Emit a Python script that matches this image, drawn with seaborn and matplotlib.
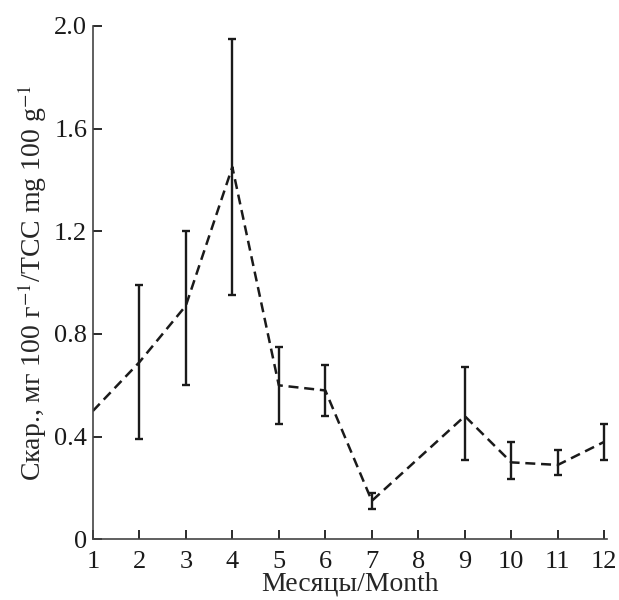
import matplotlib

matplotlib.use("Agg")
import matplotlib.pyplot as plt
import numpy as np
import pandas as pd
import seaborn as sns

# значения
months = [1, 2, 3, 4, 5, 6, 7, 9, 10, 11, 12]
car_mean = [0.50, 0.69, 0.91, 1.45, 0.60, 0.58, 0.15, 0.48, 0.30, 0.29, 0.38]
err_low = [np.nan, 0.39, 0.60, 0.95, 0.45, 0.48, 0.12, 0.31, 0.235, 0.25, 0.31]
err_high = [np.nan, 0.99, 1.20, 1.95, 0.75, 0.68, 0.18, 0.67, 0.38, 0.35, 0.45]
x_ticks = list(range(1, 13))
y_ticks = [0, 0.4, 0.8, 1.2, 1.6, 2.0]
y_tick_labels = ["0", "0.4", "0.8", "1.2", "1.6", "2.0"]

sns.set_style("ticks")
plt.rcParams["font.family"] = ["Liberation Serif", "DejaVu Serif"]
plt.rcParams["mathtext.fontset"] = "stix"

df = pd.DataFrame({"month": months, "car": car_mean, "lo": err_low, "hi": err_high})

fig = plt.figure(figsize=(6.19, 6.0), dpi=100)
ax = fig.add_axes([0.150, 0.101, 0.830, 0.856])

sns.lineplot(
    data=df, x="month", y="car", ax=ax,
    color="#1a1a1a", linewidth=1.8, linestyle=(0, (4, 2.3)),
)

has_err = df.dropna()
ax.errorbar(
    has_err["month"], has_err["car"],
    yerr=[has_err["car"] - has_err["lo"], has_err["hi"] - has_err["car"]],
    fmt="none", ecolor="#1a1a1a", elinewidth=1.7, capsize=3, capthick=1.7,
)

ax.set_xlim(1, 12.05)
ax.set_ylim(0, 2.0)
ax.set_xticks(x_ticks)
ax.set_yticks(y_ticks)
ax.set_yticklabels(y_tick_labels)
ax.tick_params(direction="in", length=6.5, width=1.3, labelsize=19, colors="#1a1a1a", pad=4)
ax.tick_params(axis="x", pad=8)
sns.despine(ax=ax)
for side in ["left", "bottom"]:
    ax.spines[side].set_color("#444444")
    ax.spines[side].set_linewidth(1.2)

ax.set_xlabel("Месяцы/Month", fontsize=20, labelpad=-1)
ax.set_ylabel(r"Скар., мг 100 г$^{-1}$/TCC mg 100 g$^{-1}$", fontsize=20, labelpad=4)

fig.savefig("out.png", dpi=100)
